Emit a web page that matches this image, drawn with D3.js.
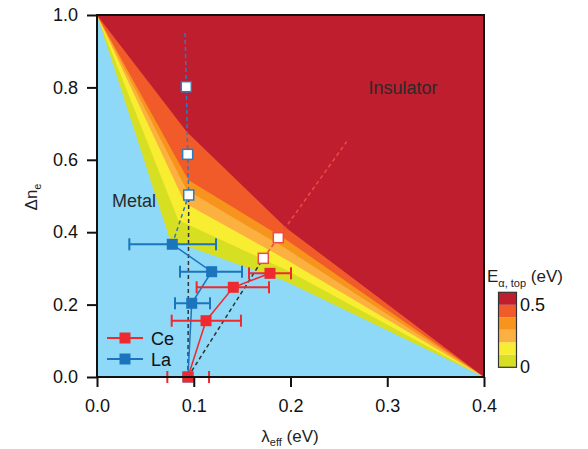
<!DOCTYPE html>
<meta charset="utf-8">
<script src="https://d3js.org/d3.v7.min.js"></script>
<html>
<head>
  <title>Metal / insulator diagram</title>
  <style>
    body { margin: 0; background: #fff; }
    svg { font-family: "Liberation Sans", Arial, Helvetica, sans-serif; }
  </style>
</head>
<body>
<div id="my_dataviz"></div>
<script>
// E_alpha,top levels (eV) and fill colours, lowest first
var levels = [0, 0.1, 0.2, 0.3, 0.4, 0.5];
var levelColors = ["#d7df23", "#f9ed32", "#fbb040", "#f7941d", "#f15a29", "#be1e2d"];
var metalColor = "#8ed8f8";

// lower boundary of each level, (lambda_eff, dn_e) vertices
var contourLines = [
  [[0, 1], [0.0755, 0.3785], [0.1953, 0.2638], [0.4, 0]],
  [[0, 1], [0.0840, 0.4337], [0.1953, 0.2964], [0.4, 0]],
  [[0, 1], [0.0910, 0.4798], [0.1953, 0.3249], [0.4, 0]],
  [[0, 1], [0.0927, 0.5166], [0.1953, 0.3547], [0.4, 0]],
  [[0, 1], [0.0944, 0.5442], [0.1953, 0.3796], [0.4, 0]],
  [[0, 1], [0.0927, 0.6776], [0.1953, 0.4124], [0.4, 0]]
];

// Ce points
var ceX   = [0.0940, 0.1127, 0.1409, 0.1788];
var ceY   = [0.0000, 0.1555, 0.2478, 0.2864];
var ceXlo = [0.0727, 0.0772, 0.1030, 0.1571];
var ceXhi = [0.1158, 0.1488, 0.1778, 0.2005];
var ceOpenX = [0.1719, 0.1874];
var ceOpenY = [0.3278, 0.3849];
var ceFitEnd = [0.258, 0.650];

// La points
var laX   = [0.0940, 0.0979, 0.1185, 0.0778];
var laY   = [0.0000, 0.2036, 0.2909, 0.3666];
var laXlo = [null, 0.0806, 0.0858, 0.0334];
var laXhi = [null, 0.1168, 0.1499, 0.1230];
var laOpenX = [0.0948, 0.0937, 0.0923];
var laOpenY = [0.5028, 0.6151, 0.8020];
var laFitEnd = [0.091, 0.95];

var xTicks = [0, 0.1, 0.2, 0.3, 0.4];
var yTicks = [0, 0.2, 0.4, 0.6, 0.8, 1.0];
var cbTicks = [0, 0.5];

var red = "#ee2a2e", blue = "#1c75bc";

var svg = d3.select("#my_dataviz").append("svg")
  .attr("width", 588).attr("height", 449);

var x = d3.scaleLinear().domain([0, 0.4]).range([97, 484]);
var y = d3.scaleLinear().domain([0, 1]).range([377, 15]);

var line = d3.line().x(function(d) { return x(d[0]); }).y(function(d) { return y(d[1]); });

// metal background
svg.append("rect")
  .attr("x", x(0)).attr("y", y(1))
  .attr("width", x(0.4) - x(0)).attr("height", y(0) - y(1))
  .attr("fill", metalColor);

// filled levels
contourLines.forEach(function(c, i) {
  var poly = c.concat([[0.4, 1], [0, 1]]);
  svg.append("path")
    .attr("d", line(poly) + "Z")
    .attr("fill", levelColors[i]);
});

// dashed guide lines
svg.append("path")
  .attr("d", line([[laX[3], laY[3]]].concat(laOpenX.map(function(v, i) { return [v, laOpenY[i]]; }), [laFitEnd])))
  .attr("fill", "none").attr("stroke", "#2b7bc0").attr("stroke-width", 1.5).attr("stroke-dasharray", "4,3");
svg.append("path")
  .attr("d", line([[ceOpenX[0], ceOpenY[0]], [ceOpenX[1], ceOpenY[1]], ceFitEnd]))
  .attr("fill", "none").attr("stroke", "#ef4a44").attr("stroke-width", 1.5).attr("stroke-dasharray", "4,3");
svg.append("path")
  .attr("d", line([[ceX[0], 0], [laOpenX[0], laOpenY[0]]]))
  .attr("fill", "none").attr("stroke", "#333").attr("stroke-width", 1.5).attr("stroke-dasharray", "4,3");
svg.append("path")
  .attr("d", line([[ceX[0], 0], [ceOpenX[0], ceOpenY[0]]]))
  .attr("fill", "none").attr("stroke", "#333").attr("stroke-width", 1.5).attr("stroke-dasharray", "4,3");

function drawSeries(xs, ys, lo, hi, color) {
  var pts = xs.map(function(v, i) { return [v, ys[i]]; });
  svg.append("path").attr("d", line(pts))
    .attr("fill", "none").attr("stroke", color).attr("stroke-width", 1.5);
  pts.forEach(function(p, i) {
    if (lo[i] == null) return;
    var g = svg.append("g").attr("stroke", color).attr("stroke-width", 2);
    g.append("line").attr("x1", x(lo[i])).attr("x2", x(hi[i])).attr("y1", y(p[1])).attr("y2", y(p[1]));
    g.append("line").attr("x1", x(lo[i])).attr("x2", x(lo[i])).attr("y1", y(p[1]) - 6).attr("y2", y(p[1]) + 6);
    g.append("line").attr("x1", x(hi[i])).attr("x2", x(hi[i])).attr("y1", y(p[1]) - 6).attr("y2", y(p[1]) + 6);
  });
  svg.selectAll(null).data(pts).enter().append("rect")
    .attr("x", function(d) { return x(d[0]) - 5.5; })
    .attr("y", function(d) { return y(d[1]) - 5.5; })
    .attr("width", 11).attr("height", 11)
    .attr("fill", color);
}
drawSeries(laX, laY, laXlo, laXhi, blue);
drawSeries(ceX, ceY, ceXlo, ceXhi, red);

function drawOpen(xs, ys, color) {
  svg.selectAll(null).data(xs).enter().append("rect")
    .attr("x", function(d) { return x(d) - 5; })
    .attr("y", function(d, i) { return y(ys[i]) - 5; })
    .attr("width", 10).attr("height", 10)
    .attr("fill", "#fff").attr("stroke", color).attr("stroke-width", 1.5);
}
drawOpen(laOpenX, laOpenY, "#2b7bc0");
drawOpen(ceOpenX, ceOpenY, "#ef4a44");

// frame
svg.append("rect")
  .attr("x", x(0)).attr("y", y(1))
  .attr("width", x(0.4) - x(0)).attr("height", y(0) - y(1))
  .attr("fill", "none").attr("stroke", "#111").attr("stroke-width", 2);

// axes
var xAxis = svg.append("g")
  .attr("transform", "translate(0," + y(0) + ")")
  .call(d3.axisBottom(x).tickValues(xTicks).tickFormat(d3.format(".1f")).tickSize(10).tickPadding(12));
var yAxis = svg.append("g")
  .attr("transform", "translate(" + x(0) + ",0)")
  .call(d3.axisLeft(y).tickValues(yTicks).tickFormat(d3.format(".1f")).tickSize(10).tickPadding(9));
[xAxis, yAxis].forEach(function(a) {
  a.select(".domain").remove();
  a.selectAll(".tick line").attr("stroke", "#111").attr("stroke-width", 2);
  a.selectAll("text").style("font-size", "18px").attr("fill", "#111")
    .style("font-family", "'Liberation Sans', Arial, sans-serif");
});

// axis titles
var xt = svg.append("text").attr("x", 290).attr("y", 442).attr("text-anchor", "middle")
  .style("font-size", "17px").attr("fill", "#222");
xt.append("tspan").text("λ");
xt.append("tspan").attr("dy", 4).style("font-size", "11px").text("eff");
xt.append("tspan").attr("dy", -4).text(" (eV)");

var yt = svg.append("text").attr("transform", "translate(37,197) rotate(-90)")
  .attr("text-anchor", "middle").style("font-size", "17px").attr("fill", "#222");
yt.append("tspan").text("Δn");
yt.append("tspan").attr("dy", 4).style("font-size", "11px").text("e");

// region labels
svg.append("text").attr("x", 403).attr("y", 94).attr("text-anchor", "middle")
  .style("font-size", "18px").attr("fill", "#2a2a2a").text("Insulator");
svg.append("text").attr("x", 134).attr("y", 207).attr("text-anchor", "middle")
  .style("font-size", "18px").attr("fill", "#2a2a2a").text("Metal");

// legend
[["Ce", red, 338], ["La", blue, 359]].forEach(function(l) {
  svg.append("line").attr("x1", 107).attr("x2", 143).attr("y1", l[2]).attr("y2", l[2])
    .attr("stroke", l[1]).attr("stroke-width", 2);
  svg.append("rect").attr("x", 125 - 5.5).attr("y", l[2] - 5.5).attr("width", 11).attr("height", 11)
    .attr("fill", l[1]);
  svg.append("text").attr("x", 151).attr("y", l[2] + 7).style("font-size", "18px")
    .attr("fill", "#111").text(l[0]);
});

// colour bar
var cb = d3.scaleLinear().domain([0, 0.6]).range([367.3, 292.3]);
svg.selectAll(null).data(levels).enter().append("rect")
  .attr("x", 498.5).attr("width", 18)
  .attr("y", function(d) { return cb(d + 0.1); })
  .attr("height", function(d) { return cb(d) - cb(d + 0.1); })
  .attr("fill", function(d, i) { return levelColors[i]; });
svg.append("rect").attr("x", 498.5).attr("y", cb(0.6)).attr("width", 18).attr("height", cb(0) - cb(0.6))
  .attr("fill", "none").attr("stroke", "#333").attr("stroke-width", 1.2);
svg.selectAll(null).data(cbTicks).enter().append("text")
  .attr("x", 520).attr("y", function(d) { return cb(d) + 6; })
  .style("font-size", "18px").attr("fill", "#111")
  .text(function(d) { return d === 0 ? "0" : d3.format(".1f")(d); });
var ct = svg.append("text").attr("x", 487).attr("y", 282).style("font-size", "17px").attr("fill", "#222");
ct.append("tspan").text("E");
ct.append("tspan").attr("dy", 5).style("font-size", "11px").text("α, top");
ct.append("tspan").attr("dy", -5).text(" (eV)");
</script>
</body>
</html>
